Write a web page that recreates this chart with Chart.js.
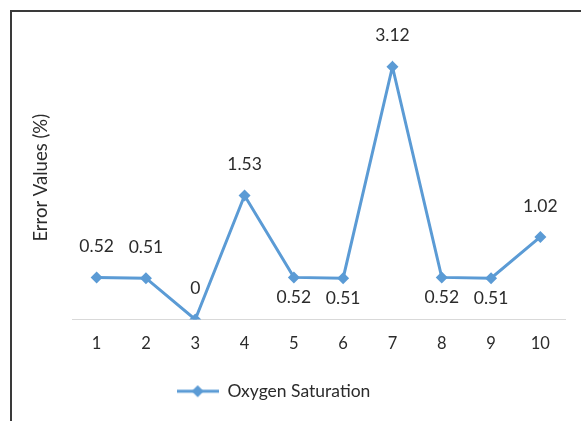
<!DOCTYPE html>
<html>
<head>
<meta charset="utf-8">
<script src="https://cdn.jsdelivr.net/npm/chart.js@4/dist/chart.umd.min.js"></script>
<style>
  html, body { margin: 0; padding: 0; background: #ffffff; }
  #frame { position: absolute; left: 10px; top: 10px; width: 600px; height: 450px; border: 2px solid #3a3a3a; box-sizing: border-box; }
  #wrap { position: absolute; left: 0; top: 0; width: 581px; height: 421px; }
</style>
</head>
<body>
<div id="frame"></div>
<div id="wrap"><canvas id="c" width="581" height="421"></canvas></div>
<script>
const categories = ['1', '2', '3', '4', '5', '6', '7', '8', '9', '10'];
const oxygenSaturation = [0.52, 0.51, 0, 1.53, 0.52, 0.51, 3.12, 0.52, 0.51, 1.02];
const labelPlacement = ['above', 'above', 'above', 'above', 'below', 'below', 'above', 'below', 'below', 'above'];
const seriesName = 'Oxygen Saturation';
const axisTitle = 'Error Values (%)';

const BLUE = '#5B9BD5';
const TEXT = '#2b2b2b';
const FONT = 'Lato, "Noto Sans", sans-serif';

// legend icon: line with diamond
const icon = document.createElement('canvas');
icon.width = 42; icon.height = 16;
(function () {
  const g = icon.getContext('2d');
  g.strokeStyle = BLUE; g.lineWidth = 3;
  g.beginPath(); g.moveTo(0, 8); g.lineTo(42, 8); g.stroke();
  g.fillStyle = BLUE;
  g.beginPath(); g.moveTo(21, 2); g.lineTo(27, 8); g.lineTo(21, 14); g.lineTo(15, 8); g.closePath(); g.fill();
})();

const dataLabels = {
  id: 'dataLabels',
  afterDatasetsDraw(chart) {
    const ctx = chart.ctx;
    const meta = chart.getDatasetMeta(0);
    ctx.save();
    ctx.font = '17.5px ' + FONT;
    ctx.fillStyle = TEXT;
    ctx.textAlign = 'center';
    ctx.textBaseline = 'middle';
    meta.data.forEach((pt, i) => {
      const v = chart.data.datasets[0].data[i];
      const dy = labelPlacement[i] === 'above' ? -31 : 20;
      ctx.fillText(String(v), pt.x, pt.y + dy);
    });
    ctx.restore();
  }
};

const legendShift = {
  id: 'legendShift',
  afterLayout(chart) {
    chart.legend.left -= 22;
    chart.legend.right -= 22;
  }
};

new Chart(document.getElementById('c'), {
  type: 'line',
  data: {
    labels: categories,
    datasets: [{
      label: seriesName,
      data: oxygenSaturation,
      borderColor: BLUE,
      backgroundColor: BLUE,
      borderWidth: 3,
      pointStyle: 'rectRot',
      pointRadius: 6,
      pointBorderWidth: 0,
      pointBackgroundColor: BLUE,
      tension: 0,
      fill: false
    }]
  },
  options: {
    responsive: false,
    animation: false,
    events: [],
    layout: { padding: { left: 26, right: 16, top: 36, bottom: 11 } },
    plugins: {
      tooltip: { enabled: false },
      title: { display: false },
      legend: {
        display: true,
        position: 'bottom',
        labels: {
          usePointStyle: true,
          pointStyleWidth: 42,
          color: TEXT,
          font: { family: FONT, size: 17.5 },
          padding: 10,
          generateLabels(chart) {
            return [{ text: seriesName, pointStyle: icon, fillStyle: BLUE, strokeStyle: BLUE, lineWidth: 0, datasetIndex: 0, hidden: false, fontColor: TEXT }];
          }
        }
      }
    },
    scales: {
      x: {
        type: 'category',
        offset: true,
        grid: { display: false, drawTicks: false },
        border: { display: true, color: '#D9D9D9', width: 1 },
        ticks: { color: TEXT, font: { family: FONT, size: 16.5 }, padding: 14, maxRotation: 0 },
        afterFit(scale) { scale.height = 53; }
      },
      y: {
        min: 0,
        max: 3.5,
        grid: { display: false, drawTicks: false },
        border: { display: false },
        ticks: { display: false },
        title: { display: true, text: axisTitle, color: TEXT, font: { family: FONT, size: 18.5 }, padding: { top: 4, bottom: 4 } },
        afterFit(scale) { scale.width = 46; }
      }
    }
  },
  plugins: [dataLabels, legendShift]
});
</script>
</body>
</html>
